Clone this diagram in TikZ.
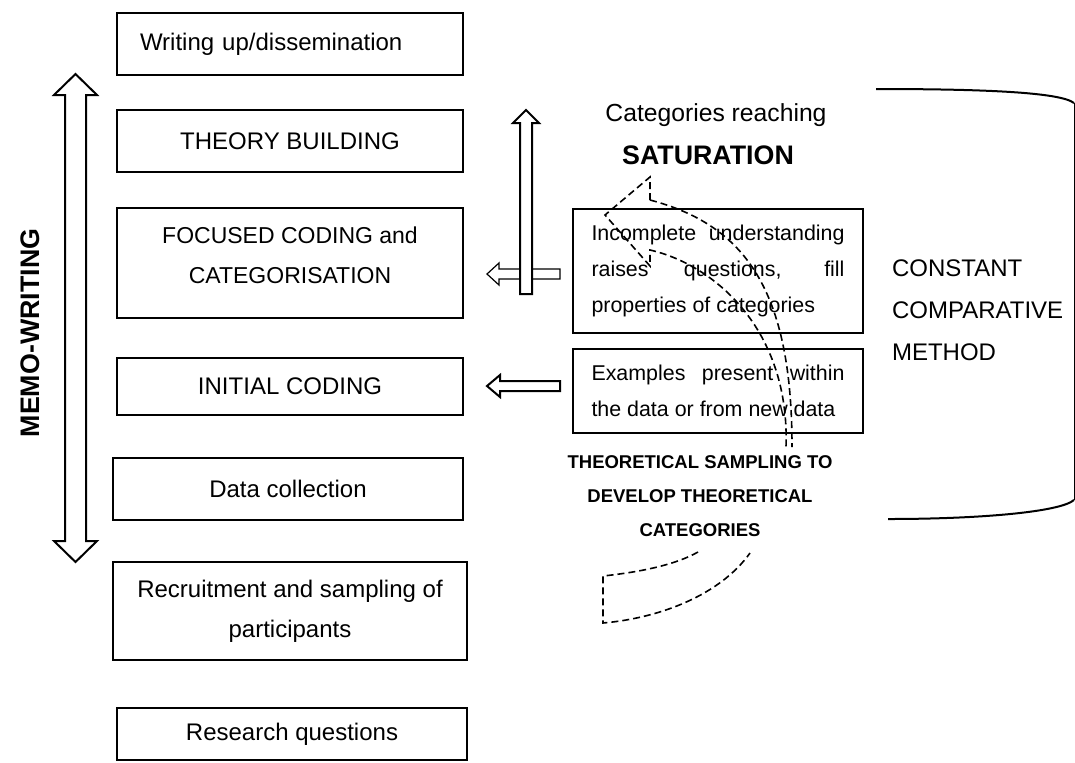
\documentclass[tikz,border=0pt]{standalone}
\usepackage{fontspec}
\setmainfont{Liberation Sans}
\begin{document}
\begin{tikzpicture}[x=0.5pt,y=-0.5pt,line join=miter,
	stage/.style={draw,line width=1pt,minimum width=173pt,align=center,inner sep=0pt,font=\fontsize{12}{20}\selectfont},
	loopbox/.style={draw,line width=1pt,minimum width=145pt,text width=126.5pt,align=justify,inner sep=0pt,font=\fontsize{10.7}{18}\selectfont},
	blockarrow/.style={draw,fill=white,line width=1pt},
	dashedarrow/.style={line width=0.8pt,dash pattern=on 3.5pt off 2pt}]
	\useasboundingbox (0,0) rectangle (1075,762);
	% stages of the study
	\node[stage,minimum height=31pt,text width=150pt,align=left,inner xsep=11.5pt] (writing) at (290,44) {Writing up/dissemination};
	\node[stage,minimum height=31pt] (theory) at (290,141) {THEORY BUILDING};
	\node[stage,minimum height=55pt] (focused) at (290,263) {};
	\node[align=center,font=\fontsize{11.5}{20}\selectfont] (focusedtext) at (290,255) {FOCUSED CODING and\\CATEGORISATION};
	\node[stage,minimum height=28.5pt] (initial) at (290,386.5) {INITIAL CODING};
	\node[stage,minimum height=31pt,minimum width=175pt] (data) at (288,489) {Data collection};
	\node[stage,minimum height=49pt,minimum width=177pt] (recruit) at (290,611) {Recruitment and sampling of\\participants};
	\node[stage,minimum height=26pt,minimum width=175pt] (questions) at (292,734) {Research questions};
	% memo-writing
	\node[rotate=90,font=\fontsize{13.4}{16}\selectfont\bfseries] (memo) at (30,333) {MEMO-WRITING};
	\draw[blockarrow] (75.5,74) -- (97,95) -- (86,95) -- (86,541) -- (97,541) -- (75.5,562) -- (54,541) -- (65,541) -- (65,95) -- (54,95) -- cycle;
	% constant comparison
	\node[loopbox,minimum height=62pt] (incomplete) at (718,271) {Incomplete understanding\linebreak raises questions, fill\linebreak properties of categories};
	\node[loopbox,minimum height=42pt] (examples) at (718,391) {Examples present within\linebreak the data or from new data};
	\node[font=\fontsize{12.35}{15}\selectfont] (reaching) at (716,115) {Categories reaching};
	\node[font=\fontsize{13.4}{16}\selectfont\bfseries] (saturation) at (708,155) {SATURATION};
	\draw[line width=0.6pt,fill=white] (487,274) -- (499,263) -- (499,269) -- (560,269) -- (560,279) -- (499,279) -- (499,285) -- cycle;
	\draw[blockarrow] (526,110) -- (539,123) -- (532,123) -- (532,294) -- (520,294) -- (520,123) -- (513,123) -- cycle;
	\draw[blockarrow] (487,386) -- (500,375) -- (500,381) -- (560,381) -- (560,391) -- (500,391) -- (500,397) -- cycle;
	% theoretical sampling arrow
	\draw[dashedarrow] (650,200) -- (650,177) -- (605,215) -- (650,266) -- (650,250)
		.. controls (715,265) and (790,330) .. (786,447);
	\draw[dashedarrow] (650,200) .. controls (745,225) and (792,290) .. (792,447);
	\draw[dashedarrow] (698,552) .. controls (675,565) and (640,572) .. (603,576) -- (603,623)
		.. controls (660,618) and (720,595) .. (750,553);
	\node[fill=white,align=center,inner sep=3pt,font=\fontsize{9.25}{17}\selectfont\bfseries] (theoretical) at (700,496) {THEORETICAL SAMPLING TO\\DEVELOP THEORETICAL\\CATEGORIES};
	\node[align=left,anchor=west,font=\fontsize{12}{21}\selectfont] (method) at (885,310) {CONSTANT\\COMPARATIVE\\METHOD};
	\draw[line width=1pt] (876,89) .. controls (980,89) and (1060,92) .. (1074,103);
	\draw[line width=0.5pt] (1074,103) -- (1074,500);
	\draw[line width=1pt] (1074,500) .. controls (1060,512) and (980,519) .. (888,519);
\end{tikzpicture}
\end{document}
